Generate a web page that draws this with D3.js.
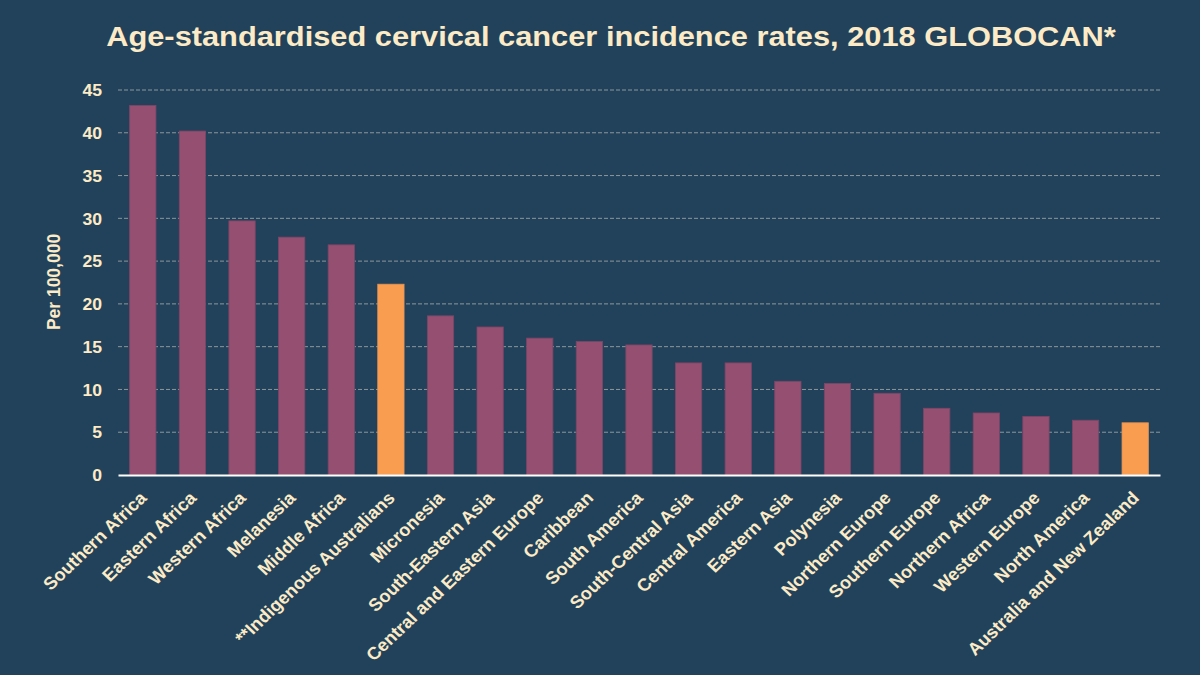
<!DOCTYPE html>
<html>
<head>
<meta charset="utf-8">
<script src="https://cdn.jsdelivr.net/npm/d3@7"></script>
<style>
  html, body { margin: 0; padding: 0; background: #22425b; }
  svg { display: block; font-family: 'Liberation Sans', Arial, sans-serif; }
</style>
</head>
<body>
<svg id="canvas"></svg>
<script>
const width = 1200;
const height = 675;

const regions = ['Southern Africa', 'Eastern Africa', 'Western Africa', 'Melanesia', 'Middle Africa',
  '**Indigenous Australians', 'Micronesia', 'South-Eastern Asia', 'Central and Eastern Europe',
  'Caribbean', 'South America', 'South-Central Asia', 'Central America', 'Eastern Asia', 'Polynesia',
  'Northern Europe', 'Southern Europe', 'Northern Africa', 'Western Europe', 'North America',
  'Australia and New Zealand'];
const rates = [43.2, 40.2, 29.7, 27.8, 26.9, 22.3, 18.6, 17.3, 16.0, 15.6, 15.2, 13.1, 13.1, 10.95,
  10.7, 9.55, 7.8, 7.25, 6.85, 6.4, 6.1];
const highlighted = ['**Indigenous Australians', 'Australia and New Zealand'];
const yTicks = [0, 5, 10, 15, 20, 25, 30, 35, 40, 45];

const textColor = '#fcebc6';
const stretch = 1.1; // the original text is a little wider than it is tall
const plotLeft = 118;
const plotRight = 1160;
const plotTop = 90;
const plotBottom = 475;

const canvas = d3.select('#canvas')
  .attr('width', width)
  .attr('height', height);

canvas.append('rect')
  .attr('width', width)
  .attr('height', height)
  .attr('fill', '#22425b');

const x = d3.scaleBand().domain(regions).range([plotLeft, plotRight]).paddingInner(0.47).paddingOuter(0.235);
const y = d3.scaleLinear().domain([0, 45]).range([plotBottom, plotTop]);

// gridlines
canvas.append('g')
  .selectAll('line')
  .data(yTicks.filter((d) => d > 0))
  .enter()
  .append('line')
  .attr('x1', plotLeft)
  .attr('x2', plotRight)
  .attr('y1', (d) => y(d))
  .attr('y2', (d) => y(d))
  .attr('stroke', '#8d979b')
  .attr('stroke-width', 1)
  .attr('stroke-dasharray', '4,2');

// bars
canvas.append('g')
  .selectAll('rect')
  .data(regions)
  .enter()
  .append('rect')
  .attr('x', (d) => x(d))
  .attr('y', (d, i) => y(rates[i]))
  .attr('width', x.bandwidth())
  .attr('height', (d, i) => y(0) - y(rates[i]))
  .attr('fill', (d) => (highlighted.includes(d) ? '#f99d51' : '#944f71'))
  .attr('stroke', (d) => (highlighted.includes(d) ? '#e89450' : '#7e4566'))
  .attr('stroke-width', 0.8);

// y axis
const yAxis = d3.axisLeft(y).tickValues(yTicks).tickSize(0).tickPadding(0);
const yG = canvas.append('g')
  .attr('transform', `translate(${plotLeft}, 0)`)
  .call(yAxis);
yG.select('.domain').remove();
yG.selectAll('text')
  .attr('fill', textColor)
  .style('font-size', '16px')
  .style('font-weight', 'bold')
  .style('font-family', "'Liberation Sans', Arial, sans-serif")
  .attr('x', null)
  .attr('dy', '0.36em')
  .attr('transform', `translate(-16, 0) scale(${stretch}, 1)`);

// x axis
const xAxis = d3.axisBottom(x).tickSize(0).tickPadding(0);
const xG = canvas.append('g')
  .attr('transform', `translate(0, ${plotBottom})`)
  .call(xAxis);
xG.select('.domain')
  .attr('stroke', '#ffffff')
  .attr('stroke-width', 2);
xG.selectAll('text')
  .attr('fill', textColor)
  .style('font-size', '17.5px')
  .style('font-weight', 'bold')
  .style('font-family', "'Liberation Sans', Arial, sans-serif")
  .attr('text-anchor', 'end')
  .attr('dy', null)
  .attr('y', null)
  .attr('transform', 'translate(5, 24) scale(1.05, 1) rotate(-45)');

// y title
canvas.append('text')
  .attr('transform', `translate(60, 282) scale(${stretch}, 1) rotate(-90)`)
  .attr('text-anchor', 'middle')
  .attr('fill', textColor)
  .style('font-size', '17.5px')
  .style('font-weight', 'bold')
  .text('Per 100,000');

// title
canvas.append('text')
  .attr('transform', `translate(611, 46) scale(${stretch}, 1)`)
  .attr('text-anchor', 'middle')
  .attr('fill', textColor)
  .style('font-size', '28px')
  .style('font-weight', 'bold')
  .text('Age-standardised cervical cancer incidence rates, 2018 GLOBOCAN*');
</script>
</body>
</html>
